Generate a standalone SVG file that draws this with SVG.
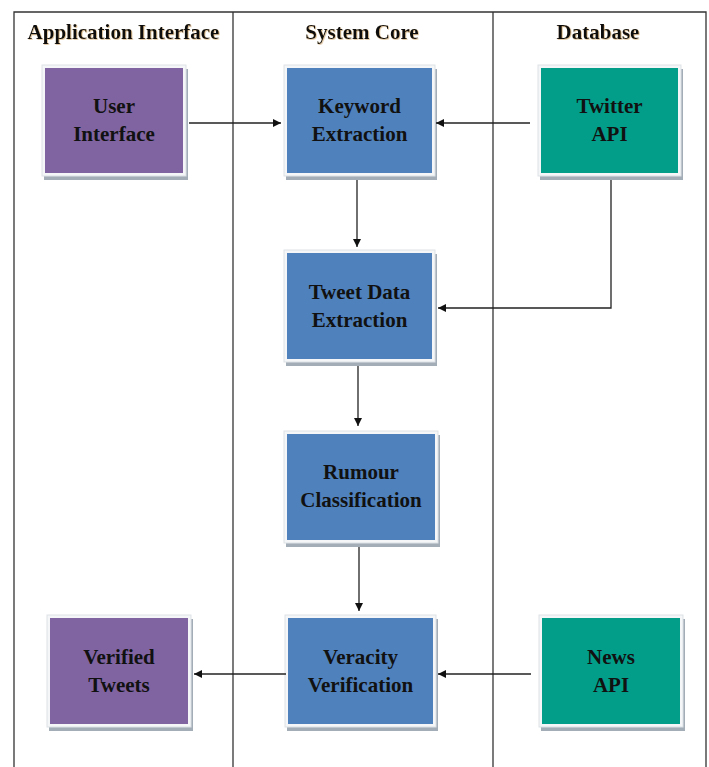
<svg xmlns="http://www.w3.org/2000/svg" width="709" height="767" viewBox="0 0 709 767">
<style>
.lane{fill:none;stroke:#333;stroke-width:1.3}
.hdr{font-family:"Liberation Serif","DejaVu Serif",serif;font-weight:bold;font-size:21px;fill:#111;text-anchor:middle}
.lbl{font-family:"Liberation Serif","DejaVu Serif",serif;font-weight:bold;font-size:21px;fill:#111;text-anchor:middle}
.shadow{fill:#a3adb8}
.frame{fill:#f4f6f8;stroke:#dde2e6;stroke-width:1}
.purple{fill:#8064A2}
.blue{fill:#4F81BD}
.teal{fill:#039E8A}
.conn{fill:none;stroke:#222;stroke-width:1.3}
</style>
<defs>
<marker id="ah" viewBox="0 0 10 10" refX="10" refY="5" markerWidth="8" markerHeight="8" markerUnits="userSpaceOnUse" orient="auto">
<path d="M0,0 L10,5 L0,10 z" fill="#111"/>
</marker>
<filter id="ts" x="-5%" y="-20%" width="110%" height="140%">
<feDropShadow dx="0.8" dy="0.8" stdDeviation="0.5" flood-color="#c89650" flood-opacity="0.6"/>
</filter>
</defs>
<rect width="709" height="767" fill="#fff"/>
<g id="lanes">
<path class="lane" d="M14,767 V12 H706 V767"/>
<line class="lane" x1="233" y1="12" x2="233" y2="767"/>
<line class="lane" x1="493" y1="12" x2="493" y2="767"/>
<text class="hdr" x="123.5" y="39" filter="url(#ts)">Application Interface</text>
<text class="hdr" x="362" y="39" filter="url(#ts)">System Core</text>
<text class="hdr" x="598" y="39" filter="url(#ts)">Database</text>
</g>
<g id="user-interface">
<rect class="shadow" x="44" y="69" width="144" height="111"/>
<rect class="frame" x="42" y="65" width="144" height="111"/>
<rect class="purple" x="45" y="68" width="138" height="105"/>
<text class="lbl" x="114" y="113">User</text>
<text class="lbl" x="114" y="141">Interface</text>
</g>
<g id="keyword-extraction">
<rect class="shadow" x="286" y="69" width="151" height="111"/>
<rect class="frame" x="284" y="65" width="151" height="111"/>
<rect class="blue" x="287" y="68" width="145" height="105"/>
<text class="lbl" x="359.5" y="113">Keyword</text>
<text class="lbl" x="359.5" y="141">Extraction</text>
</g>
<g id="twitter-api">
<rect class="shadow" x="540" y="69" width="143" height="111"/>
<rect class="frame" x="538" y="65" width="143" height="111"/>
<rect class="teal" x="541" y="68" width="137" height="105"/>
<text class="lbl" x="609.5" y="113">Twitter</text>
<text class="lbl" x="609.5" y="141">API</text>
</g>
<g id="tweet-data-extraction">
<rect class="shadow" x="286" y="254" width="151" height="112"/>
<rect class="frame" x="284" y="250" width="151" height="112"/>
<rect class="blue" x="287" y="253" width="145" height="106"/>
<text class="lbl" x="359.5" y="299">Tweet Data</text>
<text class="lbl" x="359.5" y="327">Extraction</text>
</g>
<g id="rumour-classification">
<rect class="shadow" x="286" y="435" width="154" height="112"/>
<rect class="frame" x="284" y="431" width="154" height="112"/>
<rect class="blue" x="287" y="434" width="148" height="106"/>
<text class="lbl" x="361" y="479">Rumour</text>
<text class="lbl" x="361" y="507">Classification</text>
</g>
<g id="verified-tweets">
<rect class="shadow" x="49" y="619" width="144" height="112"/>
<rect class="frame" x="47" y="615" width="144" height="112"/>
<rect class="purple" x="50" y="618" width="138" height="106"/>
<text class="lbl" x="119" y="664">Verified</text>
<text class="lbl" x="119" y="692">Tweets</text>
</g>
<g id="veracity-verification">
<rect class="shadow" x="287" y="619" width="151" height="112"/>
<rect class="frame" x="285" y="615" width="151" height="112"/>
<rect class="blue" x="288" y="618" width="145" height="106"/>
<text class="lbl" x="360.5" y="664">Veracity</text>
<text class="lbl" x="360.5" y="692">Verification</text>
</g>
<g id="news-api">
<rect class="shadow" x="541" y="619" width="144" height="112"/>
<rect class="frame" x="539" y="615" width="144" height="112"/>
<rect class="teal" x="542" y="618" width="138" height="106"/>
<text class="lbl" x="611" y="664">News</text>
<text class="lbl" x="611" y="692">API</text>
</g>
<g id="connectors">
<line class="conn" x1="189" y1="123" x2="281" y2="123" marker-end="url(#ah)"/>
<line class="conn" x1="530" y1="123" x2="436" y2="123" marker-end="url(#ah)"/>
<line class="conn" x1="357" y1="180" x2="357" y2="247" marker-end="url(#ah)"/>
<path class="conn" d="M611,180 V308 H438" marker-end="url(#ah)"/>
<line class="conn" x1="358" y1="366" x2="358" y2="426" marker-end="url(#ah)"/>
<line class="conn" x1="359" y1="547" x2="359" y2="611" marker-end="url(#ah)"/>
<line class="conn" x1="286" y1="674" x2="194" y2="674" marker-end="url(#ah)"/>
<line class="conn" x1="531" y1="674" x2="438" y2="674" marker-end="url(#ah)"/>
</g>
</svg>
